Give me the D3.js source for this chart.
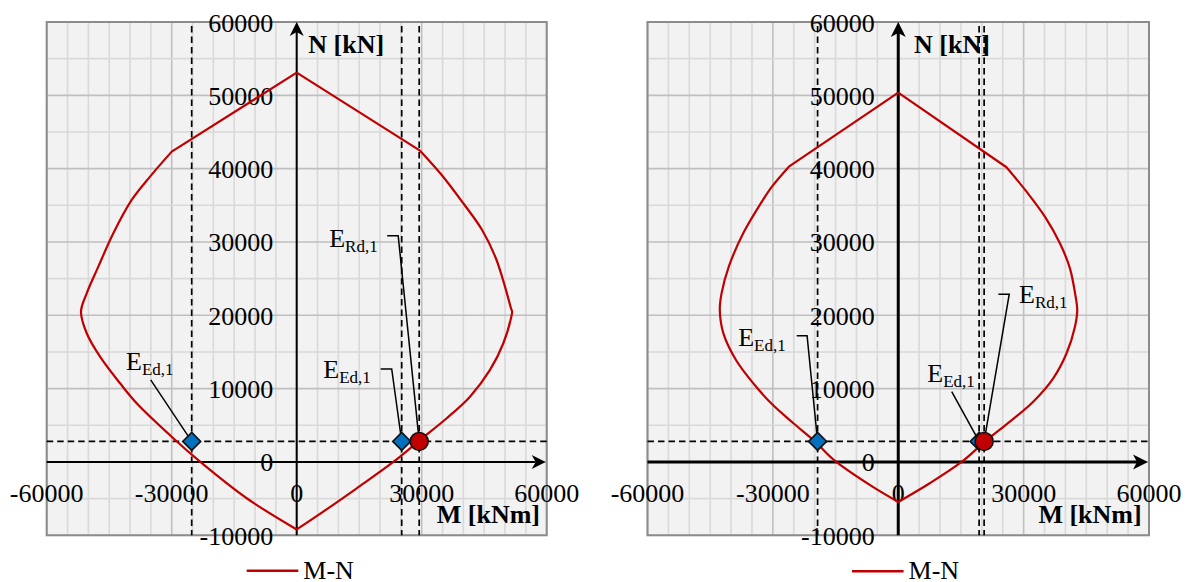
<!DOCTYPE html>
<html>
<head>
<meta charset="utf-8">
<script src="https://cdn.jsdelivr.net/npm/d3@7"></script>
<style>
  body { margin: 0; background: #fff; }
  svg { display: block; }
  text { font-family: "Liberation Serif", "Times New Roman", serif; fill: #000; }
</style>
</head>
<body>
<svg id="chart" width="1189" height="582"></svg>
<script>
// Axis ticks
const mTicks = [-60000, -30000, 0, 30000, 60000];
const nTicks = [-10000, 0, 10000, 20000, 30000, 40000, 50000, 60000];
const mDomain = [-60000, 60000];
const nDomain = [-10000, 60000];

// Section 1: M-N interaction curve (clockwise from the top)
const sec1M = [0, 29600, 34800, 39980, 44500, 47800, 49990, 51430, 51700, 51600, 49590, 46390, 41590, 36000, 29600, 23190, 14400, 6380, 0,
               -12000, -23200, -29620, -38400, -42400, -47200, -50400, -51770, -50400, -47610, -44010, -39600, -35200, -30000, 0];
const sec1N = [53100, 42450, 39140, 35280, 31640, 27780, 23910, 20960, 20500, 20050, 16190, 12550, 8900, 5960, 3000, 0, -3590, -6770, -9200,
               -4950, 40, 3230, 8000, 10730, 14360, 17550, 20500, 23000, 26640, 31190, 35730, 38910, 42320, 53100];
// Section 1: design actions and resistance
const sec1EdM = [-25200, 25200];
const sec1EdN = [2800, 2800];
const sec1RdM = [29400];
const sec1RdN = [2800];

// Section 2: M-N interaction curve (clockwise from the top)
const sec2M = [0, 25900, 30700, 35090, 38680, 41080, 42440, 42830, 42280, 40280, 37080, 32290, 26710, 20720, 15140, 7540, 0,
               -6160, -15190, -19900, -25080, -30230, -34500, -38830, -41840, -42700, -42280, -40550, -37100, -32380, -30230, -26180, 0];
const sec2N = [50360, 40190, 36860, 33450, 29820, 26410, 22540, 20730, 18450, 14820, 11410, 8220, 5500, 2770, 0, -2900, -5450,
               -3370, 180, 2770, 5280, 7900, 10600, 13910, 17540, 20730, 22990, 26630, 31180, 35730, 37550, 40270, 50360];
const sec2EdM = [-19300, 19350];
const sec2EdN = [2800, 2800];
const sec2RdM = [20550];
const sec2RdN = [2800];

const seriesName = "M-N";

// Layout of the two panels
const panels = [
  {
    x0: 46.7, x1: 546.7, axisW: 2, arrowL: 14, arrowH: 7,
    curveM: sec1M, curveN: sec1N, edM: sec1EdM, edN: sec1EdN, rdM: sec1RdM, rdN: sec1RdN,
    nTitle: { x: 308.3, y: 53.3 }, mTitle: { x: 540, y: 522.7 },
    legend: { x: 246.7, y: 570.7 },
    notes: [
      { ref: "ed", i: 0, sub: "Ed,1", tx: -65.7, ty: -71.5, path: [[-41, -61.5], [0, 0]] },
      { ref: "ed", i: 1, sub: "Ed,1", tx: -78.4, ty: -63.2, path: [[-21, -72.5], [-10, -72.5], [0, 0]] },
      { ref: "rd", i: 0, sub: "Rd,1", tx: -90, ty: -194.8, path: [[-32, -205.8], [-21, -205.8], [0, 0]] }
    ]
  },
  {
    x0: 647.5, x1: 1149, axisW: 3, arrowL: 15, arrowH: 7.5,
    curveM: sec2M, curveN: sec2N, edM: sec2EdM, edN: sec2EdN, rdM: sec2RdM, rdN: sec2RdN,
    nTitle: { x: 914, y: 53.3 }, mTitle: { x: 1141.7, y: 522.7 },
    legend: { x: 852, y: 571.2 },
    notes: [
      { ref: "ed", i: 0, sub: "Ed,1", tx: -79.4, ty: -95.8, path: [[-20.9, -105.8], [-10.5, -105.8], [0, 0]] },
      { ref: "ed", i: 1, sub: "Ed,1", tx: -51.8, ty: -59.8, path: [[-27.4, -49.8], [0, 0]] },
      { ref: "rd", i: 0, sub: "Rd,1", tx: 34.9, ty: -138.2, path: [[14.3, -147.2], [25.1, -147.2], [0, 0]] }
    ]
  }
];

const svg = d3.select("#chart");
const yTop = 22, yBottom = 535.3;
const RED = "#C00000", BLUE = "#0070C0";

panels.forEach(p => {
  const x = d3.scaleLinear().domain(mDomain).range([p.x0, p.x1]);
  const y = d3.scaleLinear().domain(nDomain).range([yBottom, yTop]);
  const g = svg.append("g");

  // plot area
  g.append("rect").attr("x", p.x0).attr("y", yTop).attr("width", p.x1 - p.x0).attr("height", yBottom - yTop)
    .attr("fill", "#F2F2F2");

  // minor and major gridlines
  const mGrid = d3.range(mDomain[0], mDomain[1] + 1, 5000);
  const nGrid = d3.range(nDomain[0], nDomain[1] + 1, 5000);
  g.selectAll(".vg").data(mGrid).join("line")
    .attr("x1", d => x(d)).attr("x2", d => x(d)).attr("y1", yTop).attr("y2", yBottom)
    .attr("stroke", d => d % 30000 === 0 ? "#BFBFBF" : "#D9D9D9").attr("stroke-width", 1.6);
  g.selectAll(".hg").data(nGrid).join("line")
    .attr("y1", d => y(d)).attr("y2", d => y(d)).attr("x1", p.x0).attr("x2", p.x1)
    .attr("stroke", d => d % 10000 === 0 ? "#BFBFBF" : "#D9D9D9").attr("stroke-width", 1.6);

  g.append("rect").attr("x", p.x0).attr("y", yTop).attr("width", p.x1 - p.x0).attr("height", yBottom - yTop)
    .attr("fill", "none").attr("stroke", "#8C8C8C").attr("stroke-width", 2);

  // tick labels
  g.selectAll(".yl").data(nTicks).join("text")
    .attr("x", x(0) - 23.5).attr("y", d => y(d) + 9.5)
    .attr("text-anchor", "end").attr("font-size", 26).text(d => d);
  g.selectAll(".xl").data(mTicks).join("text")
    .attr("x", d => x(d)).attr("y", 501.5)
    .attr("text-anchor", "middle").attr("font-size", 26).text(d => d);

  // axes with stealth arrowheads
  const ax = x(0), ay = y(0);
  g.append("line").attr("x1", ax).attr("x2", ax).attr("y1", yBottom).attr("y2", yTop + p.arrowL - 4)
    .attr("stroke", "#000").attr("stroke-width", p.axisW);
  g.append("path")
    .attr("d", `M${ax},${yTop} L${ax + p.arrowH},${yTop + p.arrowL} L${ax},${yTop + p.arrowL - 4} L${ax - p.arrowH},${yTop + p.arrowL} Z`)
    .attr("fill", "#000");
  const tipX = p.x1 - 1;
  g.append("line").attr("x1", p.x0).attr("x2", tipX - p.arrowL + 4).attr("y1", ay).attr("y2", ay)
    .attr("stroke", "#000").attr("stroke-width", p.axisW);
  g.append("path")
    .attr("d", `M${tipX},${ay} L${tipX - p.arrowL},${ay - p.arrowH} L${tipX - p.arrowL + 4},${ay} L${tipX - p.arrowL},${ay + p.arrowH} Z`)
    .attr("fill", "#000");

  // axis titles
  g.append("text").attr("x", p.nTitle.x).attr("y", p.nTitle.y).attr("font-size", 26).attr("font-weight", "bold").text("N [kN]");
  g.append("text").attr("x", p.mTitle.x).attr("y", p.mTitle.y).attr("font-size", 26).attr("font-weight", "bold")
    .attr("text-anchor", "end").text("M [kNm]");

  // reference dashed lines through the design points
  const dash = "6.5,4";
  const allM = p.edM.concat(p.rdM);
  g.selectAll(".vd").data(allM).join("line")
    .attr("x1", d => x(d)).attr("x2", d => x(d)).attr("y1", yTop + 4).attr("y2", yBottom)
    .attr("stroke", "#000").attr("stroke-width", 1.7).attr("stroke-dasharray", dash);
  g.append("line").attr("x1", p.x0).attr("x2", p.x1 + 2).attr("y1", y(p.edN[0])).attr("y2", y(p.edN[0]))
    .attr("stroke", "#000").attr("stroke-width", 1.7).attr("stroke-dasharray", dash);

  // interaction curve: smooth between the corner points (apex, the two
  // kinks next to it and the lowest point), straight where only two points
  const pts = p.curveM.map((m, i) => [m, p.curveN[i]]);
  const last = pts.length - 1;
  const iMin = d3.minIndex(pts, d => d[1]);
  const corners = [0, 1, iMin, last - 1, last];
  const smooth = d3.line().x(d => x(d[0])).y(d => y(d[1])).curve(d3.curveCatmullRom.alpha(0.5));
  let dStr = "";
  for (let k = 0; k < corners.length - 1; k++) {
    const seg = smooth(pts.slice(corners[k], corners[k + 1] + 1));
    dStr += k === 0 ? seg : "L" + seg.slice(1);
  }
  g.append("path").attr("d", dStr)
    .attr("fill", "none").attr("stroke", RED).attr("stroke-width", 2.2).attr("stroke-linejoin", "round");

  // leader lines and labels
  p.notes.forEach(n => {
    const mx = x(n.ref === "ed" ? p.edM[n.i] : p.rdM[n.i]);
    const my = y(n.ref === "ed" ? p.edN[n.i] : p.rdN[n.i]);
    g.append("path")
      .attr("d", d3.line()(n.path.map(([dx, dy]) => [mx + dx, my + dy])))
      .attr("fill", "none").attr("stroke", "#000").attr("stroke-width", 1.5);
    const t = g.append("text").attr("x", mx + n.tx).attr("y", my + n.ty).attr("font-size", 26);
    t.append("tspan").text("E");
    t.append("tspan").attr("font-size", 17).attr("dy", 5).text(n.sub);
  });

  // design action markers (diamonds) and resistance marker (circle)
  const dsz = 9;
  g.selectAll(".ed").data(p.edM.map((m, i) => [m, p.edN[i]])).join("path")
    .attr("d", d => `M${x(d[0])},${y(d[1]) - dsz} L${x(d[0]) + dsz},${y(d[1])} L${x(d[0])},${y(d[1]) + dsz} L${x(d[0]) - dsz},${y(d[1])} Z`)
    .attr("fill", BLUE).attr("stroke", "#111").attr("stroke-width", 1.6);
  g.selectAll(".rd").data(p.rdM.map((m, i) => [m, p.rdN[i]])).join("circle")
    .attr("cx", d => x(d[0])).attr("cy", d => y(d[1])).attr("r", 9)
    .attr("fill", RED).attr("stroke", "#111").attr("stroke-width", 1.6);

  // legend
  g.append("line").attr("x1", p.legend.x).attr("x2", p.legend.x + 51.6).attr("y1", p.legend.y).attr("y2", p.legend.y)
    .attr("stroke", RED).attr("stroke-width", 2.4);
  g.append("text").attr("x", p.legend.x + 56.6).attr("y", p.legend.y + 8).attr("font-size", 26).text(seriesName);
});
</script>
</body>
</html>
